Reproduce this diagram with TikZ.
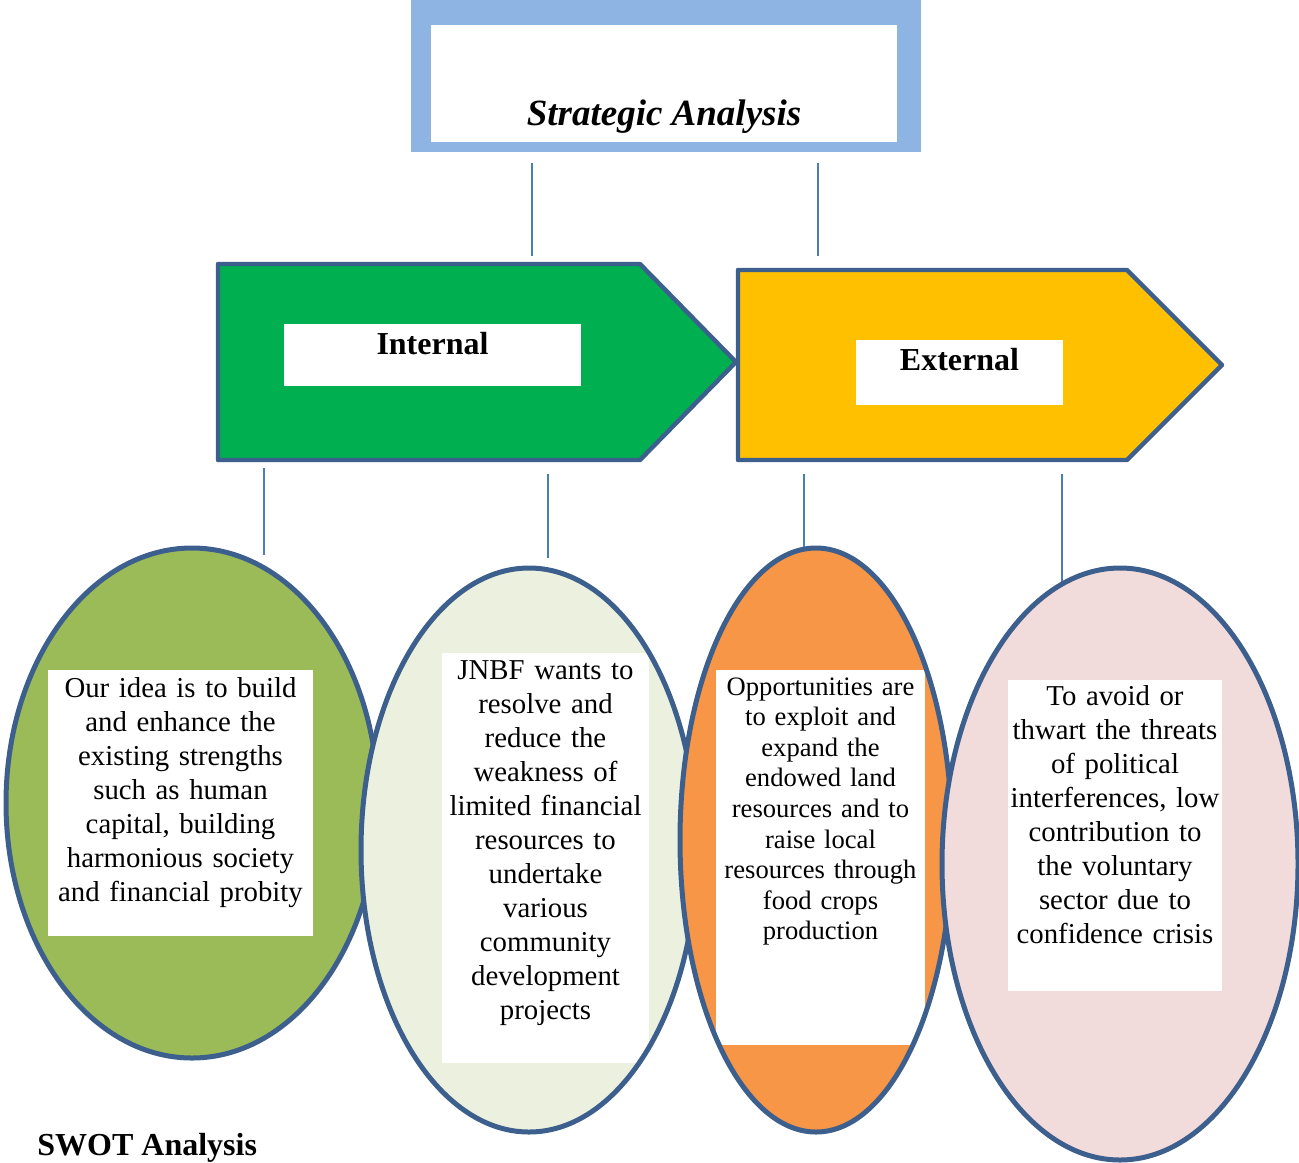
\documentclass[tikz,border=0pt]{standalone}
\usepackage{fontspec}
\setmainfont{Liberation Serif}
\usetikzlibrary{shapes.geometric, positioning, calc}

\definecolor{frameblue}{HTML}{8EB4E3}
\definecolor{linkblue}{HTML}{4A7EBB}
\definecolor{edgeblue}{HTML}{3C5F8D}
\definecolor{intgreen}{HTML}{00B050}
\definecolor{extyellow}{HTML}{FFC000}
\definecolor{sgreen}{HTML}{9BBB59}
\definecolor{wgreen}{HTML}{EBF1DE}
\definecolor{oorange}{HTML}{F79646}
\definecolor{tpink}{HTML}{F2DCDB}

\begin{document}
\begin{tikzpicture}[x=0.5pt, y=-0.5pt,
  link/.style={draw=linkblue, line width=1pt},
  arrowbox/.style={draw=edgeblue, line width=2.2pt, line join=round},
  swotfill/.style={ellipse, inner sep=0pt},
  swotline/.style={draw=edgeblue, line width=2.5pt},
  whitebox/.style={fill=white, inner sep=0pt},
  body/.style={inner sep=0pt, align=center, anchor=base, text width=#1,
    font=\fontsize{14.4}{17}\selectfont},
  tag/.style={fill=white, inner sep=0pt, anchor=base, font=\bfseries\fontsize{16}{19}\selectfont}]
  \useasboundingbox (0,0) rectangle (1299,1162);

  % Title frame
  \node[fill=frameblue, inner sep=0pt, minimum width=255pt, minimum height=76pt] (frame) at (666,76) {};
  \node[whitebox, anchor=base, minimum width=233pt, text height=50pt, text depth=8.5pt,
    font=\bfseries\itshape\fontsize{18.5}{22}\selectfont] (title) at (664,125) {Strategic Analysis};

  % Internal / External arrows
  \draw[arrowbox, fill=intgreen] (218,264) coordinate (int-nw) -- (640,264) -- (736,362)
    -- (640,460) -- (218,460) coordinate (int-sw) -- cycle;
  \draw[arrowbox, fill=extyellow] (738,270) coordinate (ext-nw) -- (1127,270) -- (1222,365)
    -- (1127,460) -- (738,460) coordinate (ext-sw) -- cycle;
  \node[tag, minimum width=148.5pt, text height=15pt, text depth=16pt] (int) at (432.5,354) {Internal};
  \node[tag, minimum width=103.5pt, text height=15pt, text depth=17.5pt] (ext) at (959.5,370) {External};

  % Connectors
  \draw[link] ($(frame.south)+(-134,11)$) -- ($(int-nw)+(314,-8)$);
  \draw[link] ($(frame.south)+(152,11)$) -- ($(ext-nw)+(80,-14)$);
  \draw[link] ($(int-sw)+(46,8)$) -- ($(int-sw)+(46,95)$);
  \draw[link] ($(int-sw)+(330,14)$) -- ($(int-sw)+(330,98)$);
  \draw[link] ($(ext-sw)+(66,14)$) -- ($(ext-sw)+(66,90)$);
  \draw[link] ($(ext-sw)+(324,14)$) -- ($(ext-sw)+(324,124)$);

  % Strengths
  \node[swotfill, fill=sgreen, minimum width=186pt, minimum height=255pt] (str) at (192,803) {};
  \node[whitebox, minimum width=132.5pt, minimum height=133pt] (str-box) at (180.5,803) {};
  \node[body=140pt] (str-txt) at (180.5,697) {Our idea is to build\\ and enhance the\\ existing strengths\\
    such as human\\ capital, building\\ harmonious society\\ and financial probity};
  \draw[swotline] (str.center) ellipse [x radius=186, y radius=255];

  % Weaknesses
  \node[swotfill, fill=wgreen, minimum width=168pt, minimum height=282pt] (wk) at (529,850) {};
  \node[whitebox, minimum width=103.5pt, minimum height=205pt] (wk-box) at (545.5,858) {};
  \node[body=110pt] (wk-txt) at (545.5,679) {JNBF wants to\\ resolve and\\ reduce the\\ weakness of\\
    limited financial\\ resources to\\ undertake\\ various\\ community\\ development\\ projects};
  \draw[swotline] (wk.center) ellipse [x radius=168, y radius=282];

  % Opportunities
  \node[swotfill, fill=oorange, minimum width=136pt, minimum height=292pt] (opp) at (816,840) {};
  \node[whitebox, minimum width=104.5pt, minimum height=187.5pt] (opp-box) at (820.5,857.5) {};
  \node[body=110pt, font=\fontsize{13.3}{15.3}\selectfont] (opp-txt) at (820.5,695) {Opportunities are\\
    to exploit and\\ expand the\\ endowed land\\ resources and to\\ raise local\\
    resources through\\ food crops\\ production};
  \draw[swotline] (opp.center) ellipse [x radius=136, y radius=292];

  % Threats
  \node[swotfill, fill=tpink, minimum width=178pt, minimum height=296pt] (thr) at (1120,864) {};
  \node[whitebox, minimum width=107pt, minimum height=155.5pt] (thr-box) at (1115,835.5) {};
  \node[body=110pt] (thr-txt) at (1115,705) {To avoid or\\ thwart the threats\\ of political\\
    interferences, low\\ contribution to\\ the voluntary\\ sector due to\\ confidence crisis};
  \draw[swotline] (thr.center) ellipse [x radius=178, y radius=296];

  \node[anchor=base west, inner sep=0pt, font=\bfseries\fontsize{16}{19}\selectfont] (cap) at (37,1155) {SWOT Analysis};
\end{tikzpicture}
\end{document}
